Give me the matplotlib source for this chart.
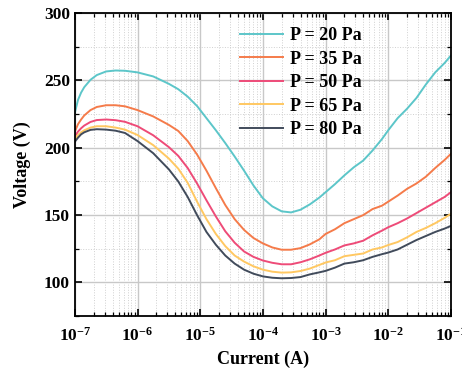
import matplotlib
matplotlib.use("Agg")
import matplotlib.pyplot as plt
import numpy as np
from matplotlib.ticker import FixedLocator, MultipleLocator, NullFormatter, FuncFormatter

plt.rcParams['font.family'] = ['Liberation Serif', 'DejaVu Serif']
plt.rcParams['font.weight'] = 'bold'
plt.rcParams['mathtext.fontset'] = 'custom'
plt.rcParams['mathtext.rm'] = 'Liberation Serif:bold'
plt.rcParams['mathtext.bf'] = 'Liberation Serif:bold'
plt.rcParams['mathtext.it'] = 'Liberation Serif:bold:italic'

# log10 of current (A)
log_current = [-7.0, -6.95, -6.9, -6.85, -6.75, -6.65, -6.5, -6.35, -6.2, -6.0,
               -5.75, -5.5, -5.35, -5.2, -5.05, -4.9, -4.75, -4.6, -4.45, -4.3,
               -4.15, -4.0, -3.85, -3.7, -3.55, -3.4, -3.25, -3.1, -3.0, -2.85,
               -2.7, -2.55, -2.4, -2.25, -2.1, -2.0, -1.85, -1.7, -1.55, -1.4,
               -1.25, -1.1, -1.0]

v_20 = [226, 235.5, 241, 245, 250.5, 254, 256.7, 257.4, 257.2, 256,
        253, 247.5, 243.5, 238, 231, 222, 213, 203.5, 193.5, 183,
        172, 162.5, 156.5, 152.8, 152, 154, 158, 163, 167, 173,
        179.5, 185.5, 190.5, 198, 206.5, 213, 222, 229, 237, 247,
        256, 263, 268.5]
v_35 = [212, 217.5, 221, 224, 228, 230.3, 231.6, 231.6, 230.8, 228,
        223.3, 217, 212.5, 205, 195, 183, 170, 157.5, 147, 139,
        133, 129, 126, 124.3, 124.3, 125.5, 128.3, 132, 136, 139.5,
        144, 147, 150, 154.5, 157, 160, 164.5, 169.5, 173.5, 178.5,
        185, 191, 195.5]
v_50 = [208.5, 212, 214.5, 216.5, 219.2, 220.6, 221, 220.5, 219.3, 216,
        209.3, 200.5, 194, 185, 173.5, 161, 149, 138, 129.5, 123,
        119, 116.3, 114.6, 113.5, 113.5, 115, 117.2, 120, 122, 124.5,
        127.5, 129, 131, 135, 138.5, 141, 144, 147.5, 151.5, 155.5,
        159.5, 163.5, 167]
v_65 = [206.5, 209.5, 211.5, 213, 215, 216, 216, 215, 213.5, 209.5,
        202, 192, 184.5, 174, 160, 147, 136, 127, 120, 115.5,
        112, 109.5, 108, 107.3, 107.5, 108.5, 110.3, 113, 114.8, 116.5,
        119.5, 120.5, 121.5, 124.5, 126, 127.8, 130, 133.5, 137.5, 140.5,
        144, 148, 151]
v_80 = [204.5, 207.5, 210, 211.5, 213.3, 213.8, 213.5, 212.7, 211, 205,
        196, 184, 175, 163.5, 150, 137.5, 128, 120, 114, 109.5,
        106.5, 104.5, 103.5, 103.1, 103.3, 104, 106, 107.5, 108.6, 111,
        114, 115, 116.5, 119, 121, 122.2, 124.5, 128, 131.5, 134.5,
        137.5, 140, 142]

labels = ['P = 20 Pa', 'P = 35 Pa', 'P = 50 Pa', 'P = 65 Pa', 'P = 80 Pa']
colors = ['#5CC6C9', '#F57B4A', '#EE4B78', '#FFC862', '#414B5B']
series = [v_20, v_35, v_50, v_65, v_80]
xtick_exponents = [-7, -6, -5, -4, -3, -2, -1]

current = 10.0 ** np.array(log_current)

fig = plt.figure(figsize=(4.62, 3.75), dpi=100)
ax = fig.add_axes([0.162, 0.157, 0.814, 0.808])

for vals, lab, col in zip(series, labels, colors):
    ax.plot(current, vals, color=col, lw=1.4, label=lab)

ax.set_xscale('log')
ax.set_xlim(1e-7, 1e-1)
ax.set_ylim(75, 300)

major = [10.0 ** e for e in xtick_exponents]
minor = [m * 10.0 ** e for e in xtick_exponents[:-1] for m in range(2, 10)]
ax.xaxis.set_major_locator(FixedLocator(major))
ax.xaxis.set_minor_locator(FixedLocator(minor))
ax.xaxis.set_minor_formatter(NullFormatter())
ax.xaxis.set_major_formatter(FuncFormatter(lambda v, p: r'$\mathbf{10^{%d}}$' % int(round(np.log10(v)))))
ax.yaxis.set_major_locator(MultipleLocator(50))
ax.yaxis.set_minor_locator(MultipleLocator(25))

ax.grid(which='major', color='#c8c8c8', lw=1.0, ls='-')
ax.grid(which='minor', color='#d0d0d0', lw=0.7, ls=':')
ax.set_axisbelow(True)

ax.tick_params(which='both', direction='in', top=True, right=True, labelsize=12.5)
ax.tick_params(which='major', length=5, width=1.2)
ax.tick_params(which='minor', length=3, width=0.9)
ax.tick_params(axis='x', pad=8)
for s in ax.spines.values():
    s.set_linewidth(1.3)

ax.set_xlabel('Current (A)', fontsize=13, fontweight='bold', labelpad=4)
ax.set_ylabel('Voltage (V)', fontsize=13, fontweight='bold', labelpad=9)

leg = ax.legend(loc='upper left', bbox_to_anchor=(0.42, 0.978), frameon=False,
                fontsize=13, handlelength=2.4, handletextpad=0.35, labelspacing=0.36,
                borderaxespad=0.0)

fig.savefig('out.png', dpi=100)
